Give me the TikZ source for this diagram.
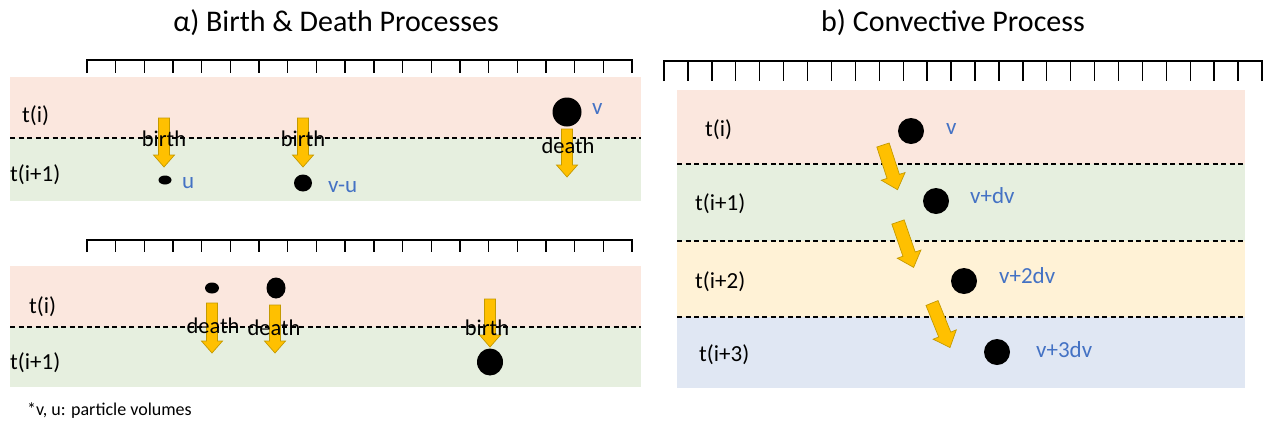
\documentclass[tikz,border=0pt]{standalone}
\usepackage{fontspec}
\setmainfont{Carlito}
\usetikzlibrary{shapes.geometric}

\definecolor{bandpink}{HTML}{FBE7DE}
\definecolor{bandgreen}{HTML}{E6EFDF}
\definecolor{bandyellow}{HTML}{FFF2D6}
\definecolor{bandblue}{HTML}{E0E7F3}
\definecolor{volblue}{HTML}{4472C4}
\definecolor{arrowgold}{HTML}{FFC000}
\definecolor{arrowedge}{HTML}{C49A00}

\tikzset{
  ruler/.style={line width=1.4pt, black},
  divider/.style={line width=1.2pt, black, dash pattern=on 5pt off 3.5pt},
  particle/.style={ellipse, fill=black, draw=none, inner sep=0pt},
  timelbl/.style={font=\fontsize{23}{27}\selectfont, inner sep=0pt, anchor=west},
  vollbl/.style={font=\fontsize{23}{27}\selectfont, text=volblue, inner sep=0pt, anchor=base west},
  eventlbl/.style={font=\fontsize{22.5}{27}\selectfont, inner sep=0pt},
  heading/.style={font=\fontsize{30}{35}\selectfont, inner sep=0pt},
  footnote/.style={font=\fontsize{18}{22}\selectfont, inner sep=0pt, anchor=west},
  arrowbody/.style={fill=arrowgold, draw=arrowedge, line width=0.7pt, line join=miter},
  % vertical block arrow: length, shaft half width, head half width, head length
  pics/blockarrow/.style n args={4}{code={
    \filldraw[arrowbody] (-#2,0) -- (-#2,#1-#4) -- (-#3,#1-#4) -- (0,#1)
      -- (#3,#1-#4) -- (#2,#1-#4) -- (#2,0) -- cycle;
  }}
}

\begin{document}
\begin{tikzpicture}[x=1pt, y=-1pt]
\useasboundingbox (0,0) rectangle (1263,421);

% ---------- headings ----------
\node[heading] (titleA) at (336,23) {α) Birth \& Death Processes};
\node[heading] (titleB) at (953,23) {b) Convective Process};

% ---------- time bands ----------
% upper left
\fill[bandpink]  (10,77)  rectangle (641,138);
\fill[bandgreen] (10,138) rectangle (641,201);
\draw[divider]   (10,138) -- (641,138);
% lower left
\fill[bandpink]  (10,266) rectangle (641,327);
\fill[bandgreen] (10,327) rectangle (641,387);
\draw[divider]   (10,327) -- (641,327);
% right
\fill[bandpink]   (677,90)  rectangle (1245,164);
\fill[bandgreen]  (677,164) rectangle (1245,241);
\fill[bandyellow] (677,241) rectangle (1245,317);
\fill[bandblue]   (677,317) rectangle (1245,388);
\draw[divider] (677,164) -- (1245,164);
\draw[divider] (677,241) -- (1245,241);
\draw[divider] (677,317) -- (1245,317);

% ---------- rulers ----------
\draw[ruler] (87,73) -- (87,60) -- (632,60) -- (632,73);
\foreach \i in {1,...,18} \draw[ruler] ({87+\i*545/19},60) -- ++(0,13);
\draw[ruler] (87,252) -- (87,240) -- (632,240) -- (632,252);
\foreach \i in {1,...,18} \draw[ruler] ({87+\i*545/19},240) -- ++(0,12);
\draw[ruler] (664,81) -- (664,61) -- (1262,61) -- (1262,81);
\foreach \i in {1,...,24} \draw[ruler] ({664+\i*598/25},61) -- ++(0,20);

% ---------- time labels ----------
\node[timelbl] (ta1) at (22,116) {t(i)};
\node[timelbl] (ta2) at (10,175) {t(i+1)};
\node[timelbl] (tb1) at (29,307) {t(i)};
\node[timelbl] (tb2) at (10,363) {t(i+1)};
\node[timelbl] (tc1) at (705,130) {t(i)};
\node[timelbl] (tc2) at (695,204) {t(i+1)};
\node[timelbl] (tc3) at (695,282) {t(i+2)};
\node[timelbl] (tc4) at (699,355) {t(i+3)};

% ---------- particles ----------
\node[particle, minimum width=13pt, minimum height=9pt]  (pu)  at (165,180) {};
\node[particle, minimum width=18pt, minimum height=17pt] (pvu) at (303,183) {};
\node[particle, minimum width=29pt, minimum height=29pt] (pv)  at (567,112) {};
\node[particle, minimum width=14pt, minimum height=11pt] (qa)  at (212,288) {};
\node[particle, minimum width=19pt, minimum height=21pt] (qb)  at (276,288) {};
\node[particle, minimum width=26pt, minimum height=27pt] (qc)  at (490,362) {};
\node[particle, minimum width=26pt, minimum height=26pt] (r0)  at (911,131) {};
\node[particle, minimum width=26pt, minimum height=26pt] (r1)  at (936,201) {};
\node[particle, minimum width=26pt, minimum height=26pt] (r2)  at (964,281) {};
\node[particle, minimum width=26pt, minimum height=26pt] (r3)  at (997,352) {};

% ---------- volume labels ----------
\node[vollbl] (lu)  at (182,188) {u};
\node[vollbl] (lvu) at (328,192) {v-u};
\node[vollbl] (lv)  at (592,114) {v};
\node[vollbl] (lr0) at (946,134) {v};
\node[vollbl] (lr1) at (970,203) {v+dv};
\node[vollbl] (lr2) at (999,283) {v+2dv};
\node[vollbl] (lr3) at (1036,357) {v+3dv};

% ---------- process arrows ----------
\pic at (164,118) {blockarrow={49}{5.5}{10.5}{12}};
\pic at (303,118) {blockarrow={49}{5.5}{10.5}{12}};
\pic at (567,129) {blockarrow={48}{5.5}{10.5}{12}};
\pic at (212,303) {blockarrow={50}{5.5}{10.5}{12}};
\pic at (275,305) {blockarrow={48}{5.5}{10.5}{12}};
\pic at (490,299) {blockarrow={48}{5.5}{10.5}{12}};
\pic[rotate=18] at (883,145) {blockarrow={47}{6.5}{12.5}{14}};
\pic[rotate=19] at (898,222) {blockarrow={48}{6.5}{12.5}{14}};
\pic[rotate=22] at (932,303) {blockarrow={48}{6.5}{12.5}{14}};

% ---------- event labels ----------
\node[eventlbl] (eb1) at (164,139) {birth};
\node[eventlbl] (eb2) at (303,139) {birth};
\node[eventlbl] (ed1) at (568,146) {death};
\node[eventlbl] (ed2) at (213,326) {death};
\node[eventlbl] (ed3) at (274,328) {death};
\node[eventlbl] (eb3) at (487,328) {birth};

% ---------- footnote ----------
\node[footnote] (note) at (27,411) {*v, u: particle volumes};
\end{tikzpicture}
\end{document}
